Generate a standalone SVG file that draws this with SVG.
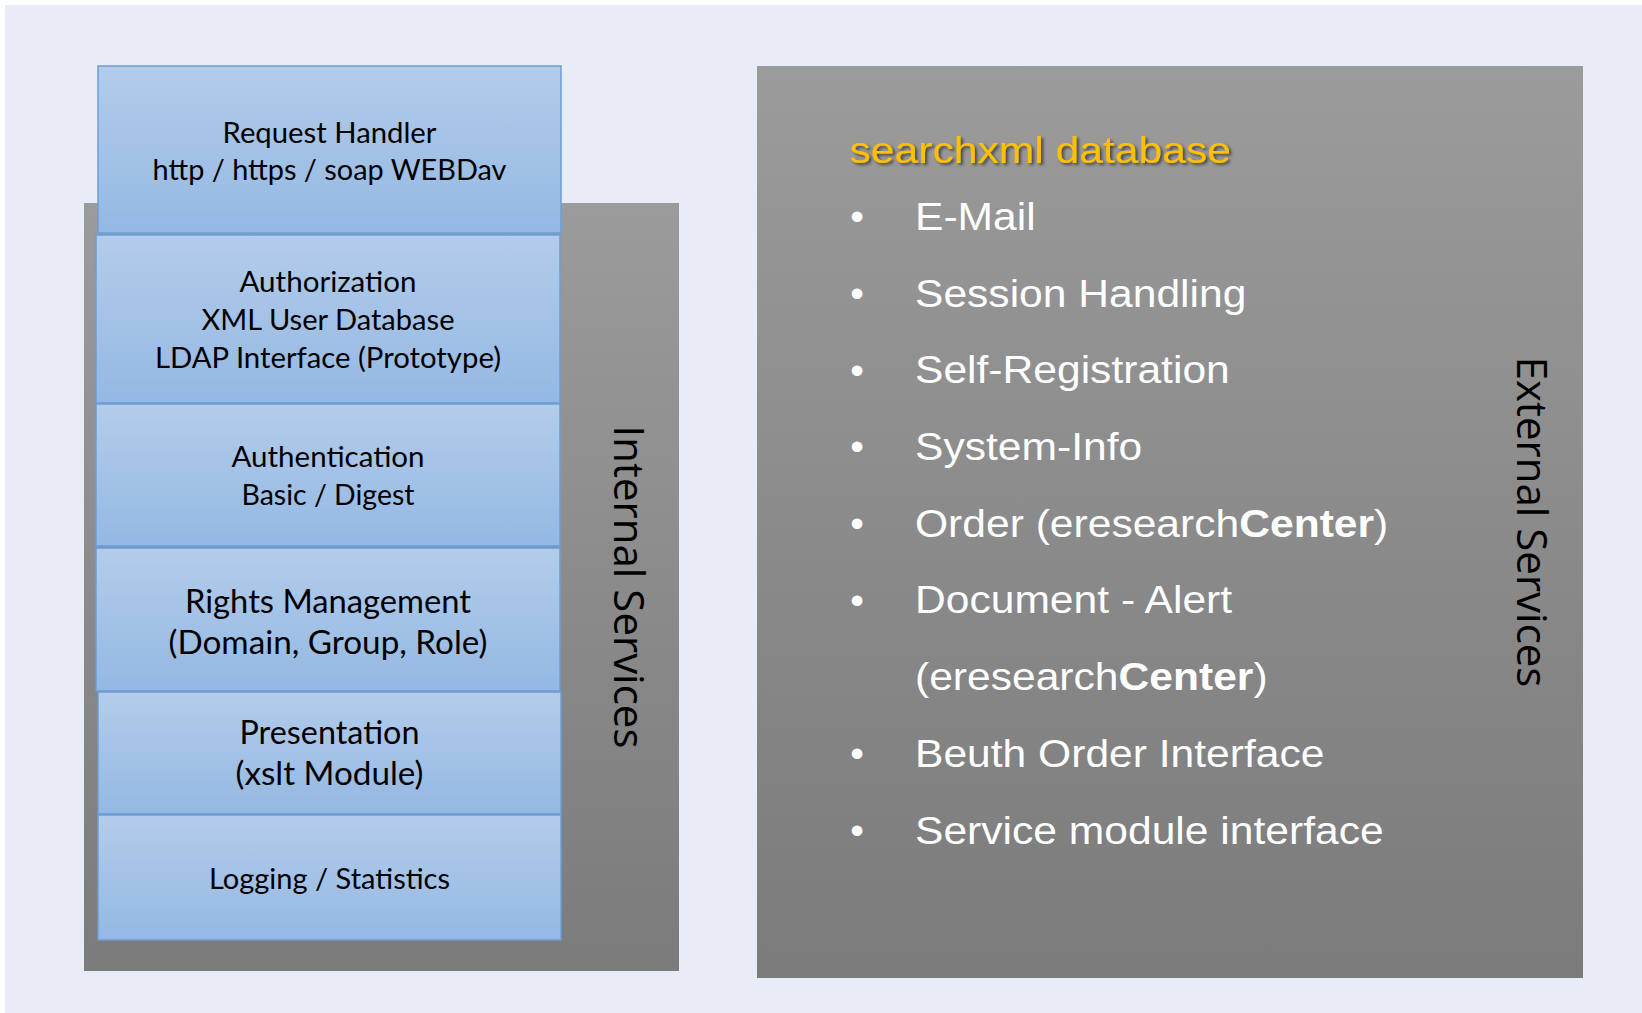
<svg xmlns="http://www.w3.org/2000/svg" width="1642" height="1013" viewBox="0 0 1642 1013">
  <defs>
    <linearGradient id="gBlue" x1="0" y1="0" x2="0" y2="1">
      <stop offset="0" stop-color="#B3CCEA"/>
      <stop offset="1" stop-color="#94B8E3"/>
    </linearGradient>
    <linearGradient id="gGray" x1="0" y1="0" x2="0" y2="1">
      <stop offset="0" stop-color="#9B9B9B"/>
      <stop offset="1" stop-color="#7B7B7B"/>
    </linearGradient>
    <filter id="shadow" x="-5%" y="-20%" width="110%" height="150%">
      <feDropShadow dx="2" dy="2" stdDeviation="1.5" flood-color="#000" flood-opacity="0.55"/>
    </filter>
    <style>
      .panel { fill: url(#gGray); }
      .box { fill: url(#gBlue); stroke: #6A9ED8; stroke-width: 1.5; }
      .bt { font-family: Lato, "Open Sans", sans-serif; font-size: 28px; fill: #000; text-anchor: middle; }
      .bt2 { font-family: Lato, "Open Sans", sans-serif; font-size: 32px; fill: #000; text-anchor: middle; }
      .vt { font-family: "Open Sans", "DejaVu Sans", sans-serif; font-size: 42px; fill: #000; text-anchor: middle; }
      .li { font-family: "Liberation Sans", Arial, sans-serif; font-size: 39px; fill: #FFFFFF; }
      .bul { font-family: "Liberation Sans", Arial, sans-serif; font-size: 39px; fill: #FFFFFF; text-anchor: middle; }
      .title { font-family: "Liberation Sans", Arial, sans-serif; font-size: 37px; fill: #FFC000; }
    </style>
  </defs>

  <rect x="0" y="0" width="1642" height="1013" fill="#FFFFFF"/>
  <rect x="5" y="5" width="1637" height="1008" fill="#E8ECF6"/>

  <!-- Internal services panel -->
  <g id="internal-services">
    <rect class="panel" x="84" y="203" width="595" height="768"/>
    <text class="vt" transform="translate(614,587) rotate(90)">Internal Services</text>
  </g>

  <g id="request-handler">
    <rect class="box" x="98" y="66" width="463" height="167"/>
    <text class="bt" x="329.5" y="143" textLength="214" lengthAdjust="spacingAndGlyphs">Request Handler</text>
    <text class="bt" x="329.5" y="180" textLength="354" lengthAdjust="spacingAndGlyphs">http / https / soap WEBDav</text>
  </g>

  <g id="authorization">
    <rect class="box" x="96" y="235" width="464" height="168"/>
    <text class="bt" x="328" y="292" textLength="177" lengthAdjust="spacingAndGlyphs">Authorization</text>
    <text class="bt" x="328" y="330" textLength="253" lengthAdjust="spacingAndGlyphs">XML User Database</text>
    <text class="bt" x="328" y="368" textLength="346" lengthAdjust="spacingAndGlyphs">LDAP Interface (Prototype)</text>
  </g>

  <g id="authentication">
    <rect class="box" x="96" y="404" width="464" height="142"/>
    <text class="bt" x="328" y="467" textLength="193" lengthAdjust="spacingAndGlyphs">Authentication</text>
    <text class="bt" x="328" y="505" textLength="173" lengthAdjust="spacingAndGlyphs">Basic / Digest</text>
  </g>

  <g id="rights-management">
    <rect class="box" x="96" y="548" width="464" height="143"/>
    <text class="bt2" x="328" y="613" textLength="286" lengthAdjust="spacingAndGlyphs">Rights Management</text>
    <text class="bt2" x="328" y="654" textLength="319" lengthAdjust="spacingAndGlyphs">(Domain, Group, Role)</text>
  </g>

  <g id="presentation">
    <rect class="box" x="98" y="692" width="463" height="122"/>
    <text class="bt2" x="329.5" y="744" textLength="180" lengthAdjust="spacingAndGlyphs">Presentation</text>
    <text class="bt2" x="329.5" y="785" textLength="188" lengthAdjust="spacingAndGlyphs">(xslt Module)</text>
  </g>

  <g id="logging">
    <rect class="box" x="98" y="815" width="463" height="125"/>
    <text class="bt" x="329.5" y="889" textLength="241" lengthAdjust="spacingAndGlyphs">Logging / Statistics</text>
  </g>

  <!-- External services panel -->
  <g id="external-services">
    <rect class="panel" x="757" y="66" width="826" height="912"/>
    <text class="vt" transform="translate(1517,522) rotate(90)">External Services</text>
    <text class="title" filter="url(#shadow)" transform="translate(849.5,0) scale(1.152,1) translate(-849.5,0)" x="849.5" y="163.5">searchxml database</text>
    <g id="bullets">
      <text class="bul" x="857" y="230">•</text>
      <text class="bul" x="857" y="307">•</text>
      <text class="bul" x="857" y="383.5">•</text>
      <text class="bul" x="857" y="460">•</text>
      <text class="bul" x="857" y="537">•</text>
      <text class="bul" x="857" y="613.5">•</text>
      <text class="bul" x="857" y="767">•</text>
      <text class="bul" x="857" y="844">•</text>
    </g>
    <g id="service-list" transform="translate(915,0) scale(1.092,1) translate(-915,0)">
      <text class="li" x="915" y="230">E-Mail</text>
      <text class="li" x="915" y="307">Session Handling</text>
      <text class="li" x="915" y="383.5">Self-Registration</text>
      <text class="li" x="915" y="460">System-Info</text>
      <text class="li" x="915" y="537">Order (eresearch<tspan font-weight="bold">Center</tspan>)</text>
      <text class="li" x="915" y="613.5">Document - Alert</text>
      <text class="li" x="915" y="690">(eresearch<tspan font-weight="bold">Center</tspan>)</text>
      <text class="li" x="915" y="767">Beuth Order Interface</text>
      <text class="li" x="915" y="844">Service module interface</text>
    </g>
  </g>

  <g id="connectors"/>
</svg>
